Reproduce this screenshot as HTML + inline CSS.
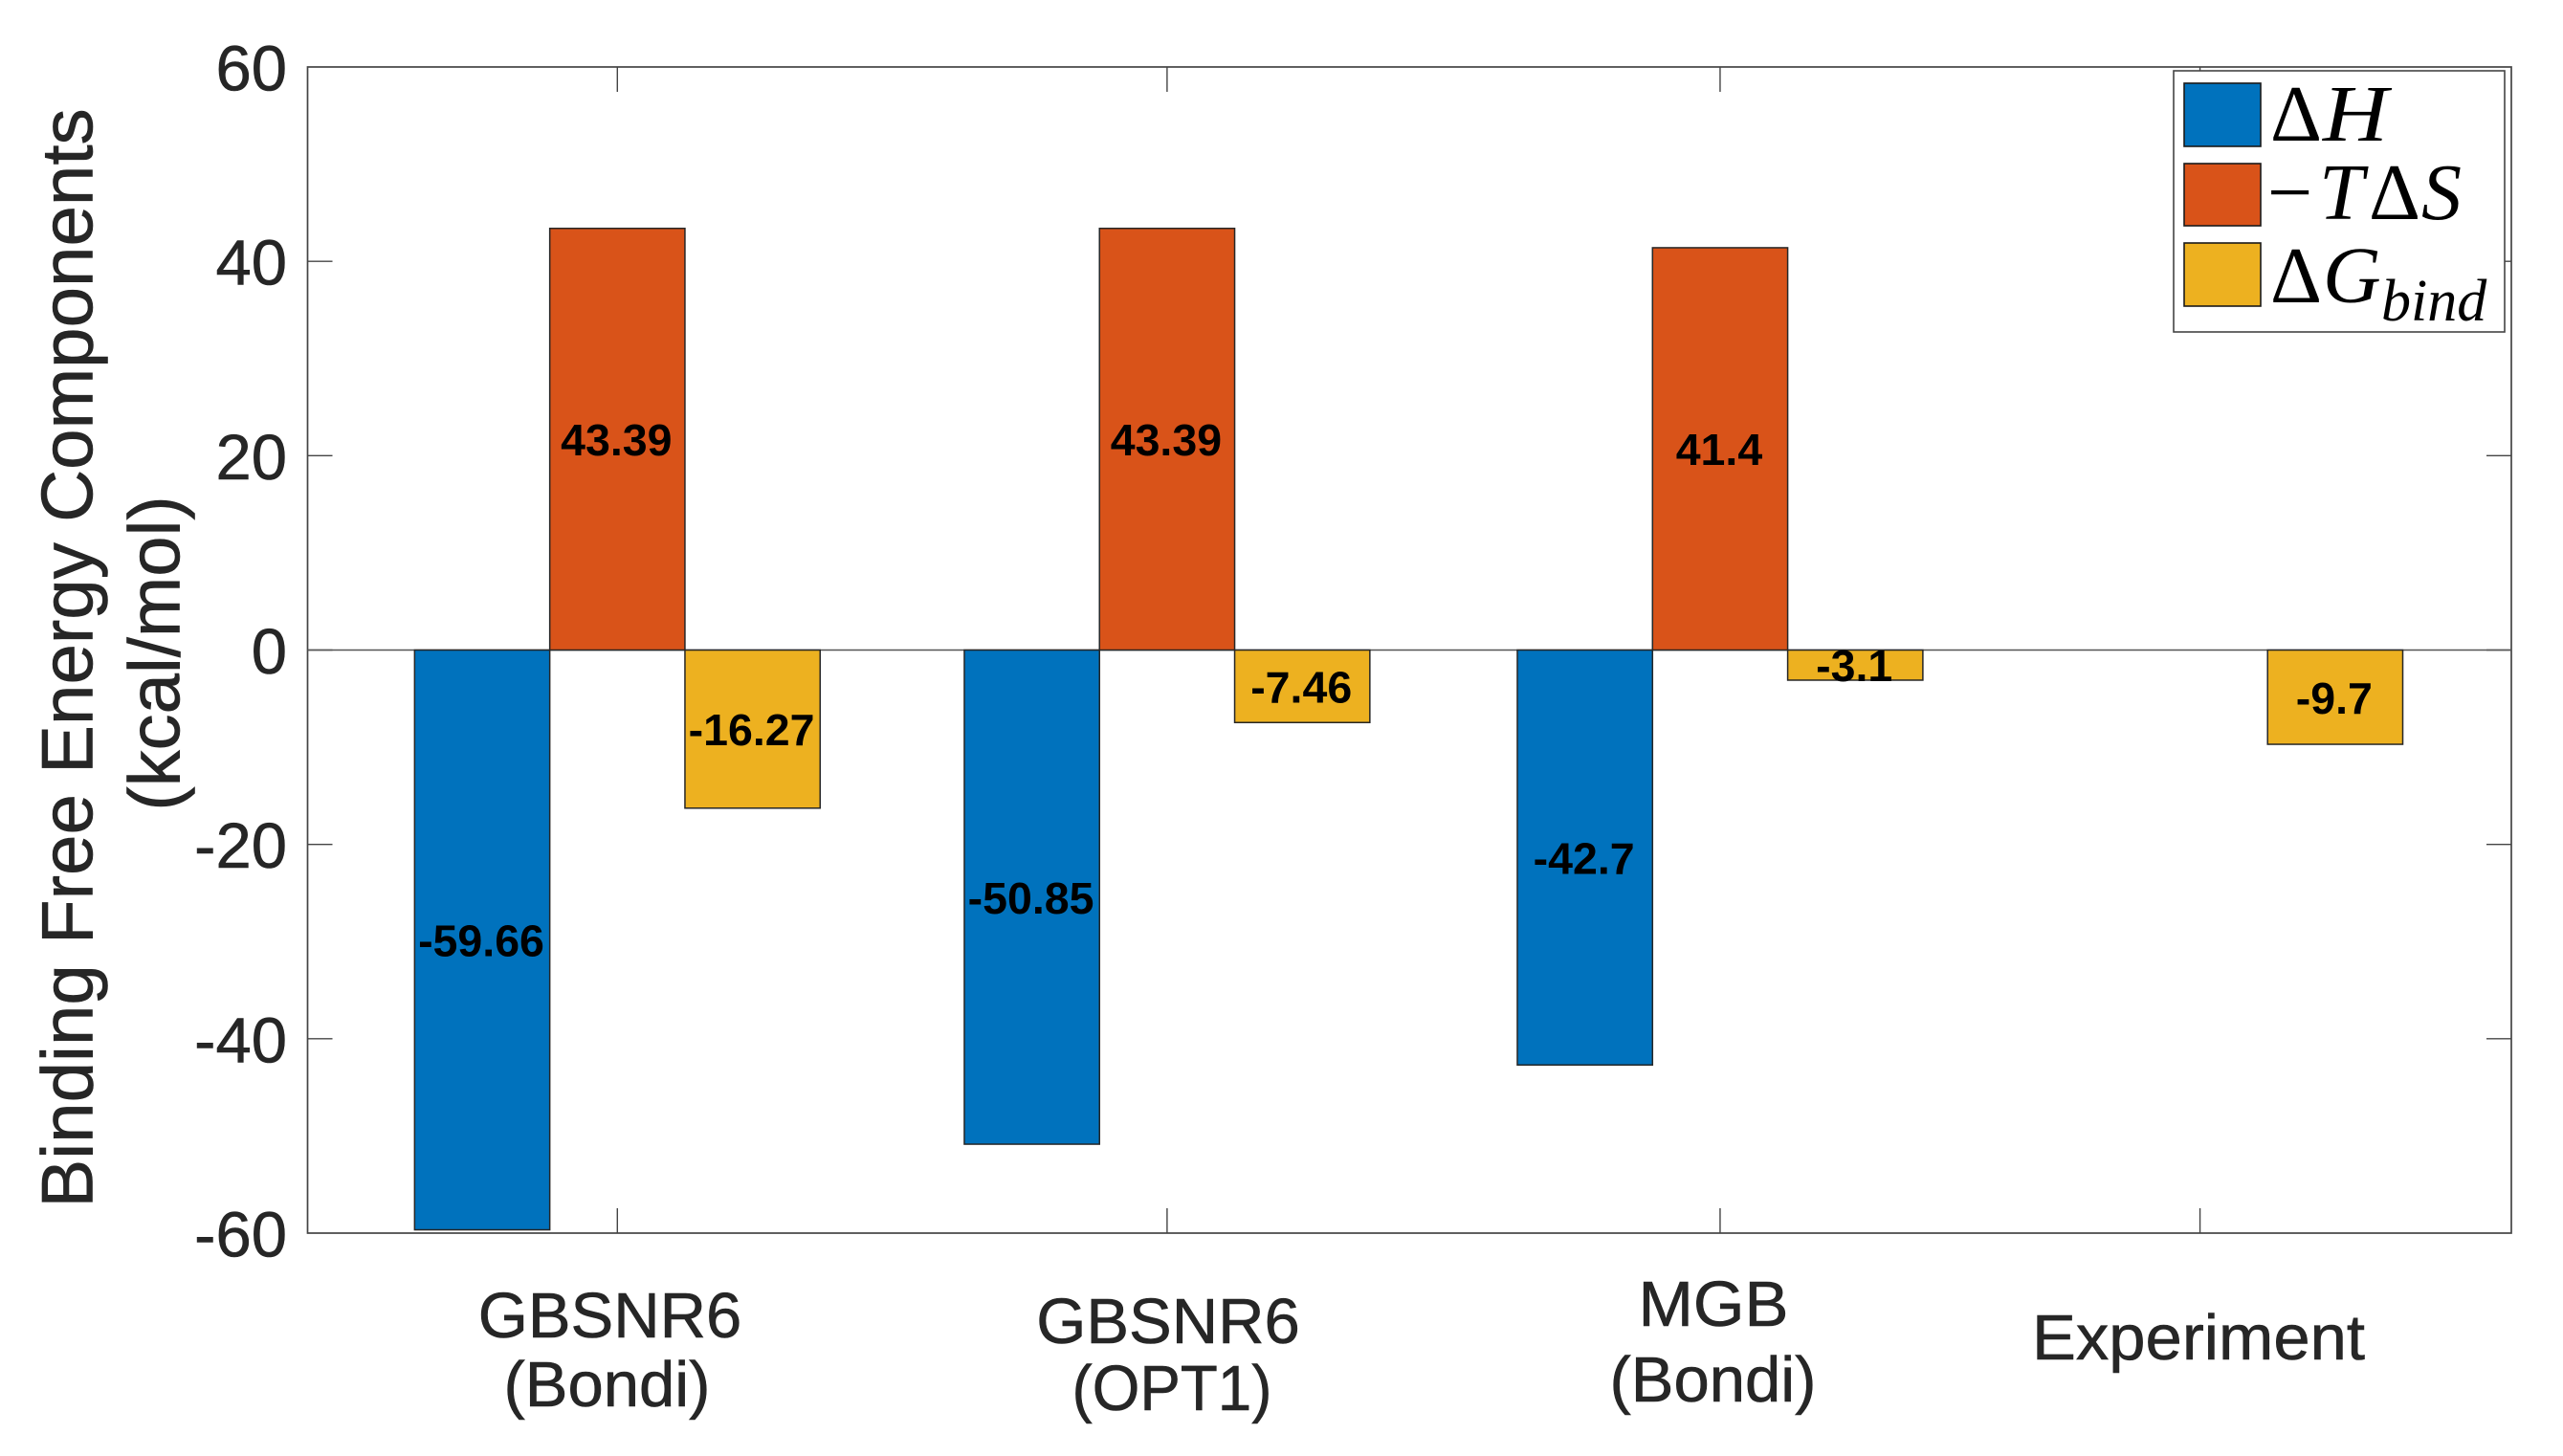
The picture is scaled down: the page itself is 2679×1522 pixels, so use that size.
<!DOCTYPE html>
<html lang="en">
<head>
<meta charset="utf-8">
<title>Binding Free Energy Components</title>
<style>
  html, body { margin: 0; padding: 0; background: #ffffff; }
  svg { display: block; }
  text { font-family: "Liberation Sans", sans-serif; }
  .axis-text { fill: #262626; stroke: #262626; stroke-width: 0.6px; }
  .legend-text { font-family: "Liberation Serif", serif; fill: #000000; }
</style>
</head>
<body>
<svg id="chart" xmlns="http://www.w3.org/2000/svg" width="2679" height="1522" viewBox="0 0 2679 1522">
  <rect x="0" y="0" width="2679" height="1522" fill="#ffffff"/>
  <g id="marks"></g>

  <g>
    <text class="axis-text" transform="translate(96.5 688) rotate(-90)" text-anchor="middle" font-size="76.3">Binding Free Energy Components</text>
    <text class="axis-text" transform="translate(187.5 683) rotate(-90)" text-anchor="middle" font-size="76">(kcal/mol)</text>
  </g>

  <g font-size="67" text-anchor="middle">
    <text class="axis-text" x="637.5" y="1398">GBSNR6</text>
    <text class="axis-text" x="634.5" y="1470">(Bondi)</text>
    <text class="axis-text" x="1221" y="1404">GBSNR6</text>
    <text class="axis-text" x="1225" y="1474" textLength="209" lengthAdjust="spacingAndGlyphs">(OPT1)</text>
    <text class="axis-text" x="1791" y="1386" textLength="157" lengthAdjust="spacingAndGlyphs">MGB</text>
    <text class="axis-text" x="1790.5" y="1465">(Bondi)</text>
    <text class="axis-text" x="2298" y="1421" textLength="348" lengthAdjust="spacingAndGlyphs">Experiment</text>
  </g>

  <g>
    <rect x="2272" y="74" width="346" height="273" fill="#ffffff" stroke="#444444" stroke-width="1.6"/>
    <rect x="2283" y="87" width="80" height="66" fill="#0072BD" stroke="#1a1a1a" stroke-width="1.6"/>
    <rect x="2283" y="171" width="80" height="65" fill="#D95319" stroke="#1a1a1a" stroke-width="1.6"/>
    <rect x="2283" y="254" width="80" height="66" fill="#EDB120" stroke="#1a1a1a" stroke-width="1.6"/>
    <text class="legend-text" font-size="84" y="147"><tspan x="2373">Δ</tspan></text>
    <text class="legend-text" font-size="84" font-style="italic" x="2428" y="147" textLength="68" lengthAdjust="spacingAndGlyphs">H</text>
    <text class="legend-text" font-size="84" y="229"><tspan x="2370">−</tspan><tspan x="2424" font-style="italic">T</tspan><tspan x="2476">Δ</tspan><tspan x="2531" font-style="italic">S</tspan></text>
    <text class="legend-text" font-size="84" y="316"><tspan x="2373">Δ</tspan><tspan x="2428" font-style="italic">G</tspan></text>
    <text class="legend-text" font-size="62" font-style="italic" x="2489" y="335">bind</text>
  </g>
</svg>

<script>
const categories = ["GBSNR6 (Bondi)", "GBSNR6 (OPT1)", "MGB (Bondi)", "Experiment"];
const groupPositions = [1, 2, 3.006, 3.879];
const enthalpyValues = [-59.66, -50.85, -42.7, null];
const entropyValues = [43.39, 43.39, 41.4, null];
const bindingValues = [-16.27, -7.46, -3.1, -9.7];
const yTickValues = [60, 40, 20, 0, -20, -40, -60];

const seriesList = [
  { key: "enthalpy", values: enthalpyValues, color: "#0072BD", slot: -1 },
  { key: "entropy", values: entropyValues, color: "#D95319", slot: 0 },
  { key: "binding", values: bindingValues, color: "#EDB120", slot: 1 }
];

const SVG_NS = "http://www.w3.org/2000/svg";
const plot = { left: 321.5, right: 2625, top: 70, bottom: 1289 };
const yMin = -60;
const yMax = 60;
const barWidthUnits = 0.2459;
const tickLength = 26;
const axisColor = "#444444";

function xScale(v) {
  return 645.3 + (v - 1) * 574.6;
}
function yScale(v) {
  return plot.bottom - (v - yMin) / (yMax - yMin) * (plot.bottom - plot.top);
}
function make(tag, attrs) {
  const el = document.createElementNS(SVG_NS, tag);
  for (const k in attrs) el.setAttribute(k, attrs[k]);
  return el;
}

const marks = document.getElementById("marks");

// Axes box
const axesBox = make("rect", { x: plot.left, y: plot.top, width: plot.right - plot.left, height: plot.bottom - plot.top, fill: "#ffffff", stroke: axisColor, "stroke-width": 1.7 });


marks.appendChild(axesBox);

// Y ticks and labels
yTickValues.forEach(function (t) {
  const y = yScale(t);
  if (t !== yMax && t !== yMin) {
    const leftTick = make("line", { x1: plot.left, x2: plot.left + tickLength, y1: y, y2: y, stroke: axisColor, "stroke-width": 1.4 });
    
    
    marks.appendChild(leftTick);
    const rightTick = make("line", { x1: plot.right - tickLength, x2: plot.right, y1: y, y2: y, stroke: axisColor, "stroke-width": 1.4 });
    
    
    marks.appendChild(rightTick);
  }
  const label = make("text", { x: 300, y: y + 24.5, "text-anchor": "end", "font-size": 67, "class": "axis-text" });
  
  
  label.textContent = String(t);
  marks.appendChild(label);
});

// X ticks, top and bottom
groupPositions.forEach(function (p) {
  const x = xScale(p);
  const bottomTick = make("line", { x1: x, x2: x, y1: plot.bottom - tickLength, y2: plot.bottom, stroke: axisColor, "stroke-width": 1.4 });
  
  
  marks.appendChild(bottomTick);
  const topTick = make("line", { x1: x, x2: x, y1: plot.top, y2: plot.top + tickLength, stroke: axisColor, "stroke-width": 1.4 });
  
  
  marks.appendChild(topTick);
});

// Zero baseline
const zeroLine = make("line", { x1: plot.left, x2: plot.right, y1: yScale(0), y2: yScale(0), stroke: "#555555", "stroke-width": 1.5 });


marks.appendChild(zeroLine);

// Bars
const barLabels = [];
seriesList.forEach(function (series) {
  series.values.forEach(function (v, i) {
    if (v === null) return;
    const left = xScale(groupPositions[i] + (series.slot - 0.5) * barWidthUnits);
    const right = xScale(groupPositions[i] + (series.slot + 0.5) * barWidthUnits);
    const y0 = yScale(0);
    const yv = yScale(v);
    const bar = make("rect", { x: left, y: Math.min(y0, yv), width: right - left, height: Math.abs(yv - y0), fill: series.color, stroke: "#262626", "stroke-width": 1.5 });
    
    
    bar.setAttribute('aria-label', categories[i] + ': ' + v);
    marks.appendChild(bar);
    barLabels.push({ text: String(v), x: (left + right) / 2 - 1, y: yScale(v / 2) + 17, key: series.key, index: i });
  });
});

// Value labels, above all bars
barLabels.forEach(function (b) {
  const t = make("text", { x: b.x, y: b.y, "text-anchor": "middle", "font-size": 46.5, "font-weight": "bold", fill: "#000000" });
  
  
  t.textContent = b.text;
  marks.appendChild(t);
});
</script>
</body>
</html>
